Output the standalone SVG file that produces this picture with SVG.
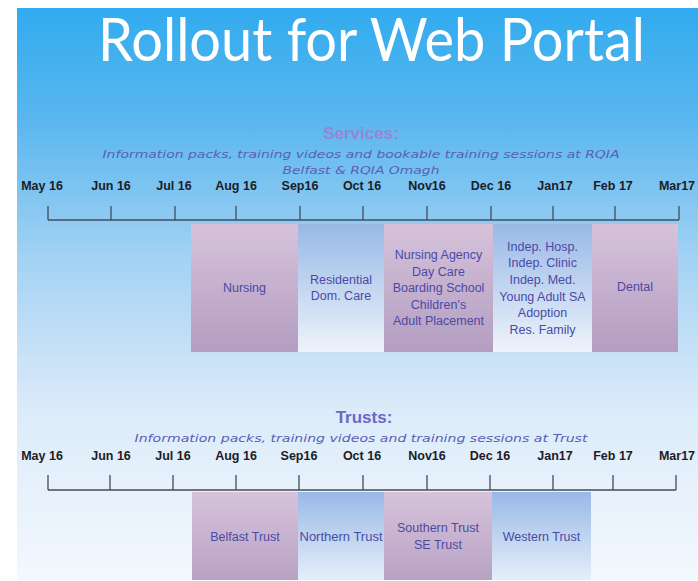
<svg xmlns="http://www.w3.org/2000/svg" width="698" height="581" viewBox="0 0 698 581">
<defs>
<linearGradient id="bg" x1="0" y1="0" x2="0" y2="1">
<stop offset="0" stop-color="#31abef"/>
<stop offset="0.2" stop-color="#5bb7ee"/>
<stop offset="0.45" stop-color="#a6d3f4"/>
<stop offset="0.7" stop-color="#dbebf9"/>
<stop offset="1" stop-color="#f3f8fe"/>
</linearGradient>
<linearGradient id="purp" x1="0" y1="0" x2="0" y2="1">
<stop offset="0" stop-color="#d6c3da"/>
<stop offset="1" stop-color="#b39dc1"/>
</linearGradient>
<linearGradient id="blu" x1="0" y1="0" x2="0" y2="1">
<stop offset="0" stop-color="#98b9e6"/>
<stop offset="1" stop-color="#eef3fb"/>
</linearGradient>
<linearGradient id="purp2" x1="0" y1="0" x2="0" y2="1">
<stop offset="0" stop-color="#d6c3da"/>
<stop offset="1" stop-color="#b8a2c4"/>
</linearGradient>
<linearGradient id="blu2" x1="0" y1="0" x2="0" y2="1">
<stop offset="0" stop-color="#98b9e6"/>
<stop offset="1" stop-color="#e6eefa"/>
</linearGradient>
</defs>
<style>
.title{font-family:Lato,"Open Sans",sans-serif;font-size:60px;fill:#ffffff;}
.head{font-family:"Liberation Sans",Arial,sans-serif;font-weight:bold;font-size:17px;text-anchor:middle;}
.ital{font-family:"DejaVu Sans",Verdana,sans-serif;font-style:italic;font-size:11px;fill:#5a5fb5;text-anchor:middle;}
.mon{font-family:"Liberation Sans",Arial,sans-serif;font-weight:bold;font-size:12.5px;fill:#1c1c28;text-anchor:middle;}
.axis{stroke:#454c5c;stroke-width:1.3;fill:none;}
.box text{font-family:"Liberation Sans",Arial,sans-serif;font-size:12.5px;fill:#4a4aa6;text-anchor:middle;}
</style>
<rect x="17" y="8" width="681" height="572" fill="url(#bg)"/>
<text class="title" x="98" y="61" textLength="547" lengthAdjust="spacingAndGlyphs">Rollout for Web Portal</text>

<g id="services-header">
<text class="head" x="361" y="139" fill="#9486d6">Services:</text>
<text class="ital" x="361" y="158" textLength="517" lengthAdjust="spacingAndGlyphs">Information packs, training videos and bookable training sessions at RQIA</text>
<text class="ital" x="361" y="174" textLength="157" lengthAdjust="spacingAndGlyphs">Belfast &amp; RQIA  Omagh</text>
</g>

<g id="services-months">
<text class="mon" x="42" y="190">May 16</text>
<text class="mon" x="111" y="190">Jun 16</text>
<text class="mon" x="174" y="190">Jul 16</text>
<text class="mon" x="236" y="190">Aug 16</text>
<text class="mon" x="300" y="190">Sep16</text>
<text class="mon" x="362" y="190">Oct 16</text>
<text class="mon" x="427" y="190">Nov16</text>
<text class="mon" x="491" y="190">Dec 16</text>
<text class="mon" x="555" y="190">Jan17</text>
<text class="mon" x="613" y="190">Feb 17</text>
<text class="mon" x="677" y="190">Mar17</text>
</g>

<g id="connectors">
<path class="axis" d="M48 220H679M48 206V220M111 206V220M175 206V220M236 206V220M300 206V220M363 206V220M427 206V220M491 206V220M553 206V220M615 206V220M679 206V220"/>
<path class="axis" d="M48 490H676M48 475V490M110 475V490M173 475V490M236 475V490M299 475V490M363 475V490M427 475V490M490 475V490M553 475V490M613 475V490M676 475V490"/>
</g>

<g id="svc-nursing" class="box">
<rect x="191" y="224" width="107" height="128" fill="url(#purp)"/>
<text x="244.5" y="292">Nursing</text>
</g>
<g id="svc-residential" class="box">
<rect x="298" y="224" width="86" height="128" fill="url(#blu)"/>
<text x="341" y="284">Residential</text>
<text x="341" y="300">Dom. Care</text>
</g>
<g id="svc-agency" class="box">
<rect x="384" y="224" width="109" height="128" fill="url(#purp)"/>
<text x="438.5" y="259">Nursing Agency</text>
<text x="438.5" y="275.5">Day Care</text>
<text x="438.5" y="292">Boarding School</text>
<text x="438.5" y="308.5">Children’s</text>
<text x="438.5" y="325">Adult Placement</text>
</g>
<g id="svc-indep" class="box">
<rect x="493" y="224" width="99" height="128" fill="url(#blu)"/>
<text x="542.5" y="250.5">Indep. Hosp.</text>
<text x="542.5" y="267">Indep. Clinic</text>
<text x="542.5" y="284">Indep. Med.</text>
<text x="542.5" y="301">Young Adult SA</text>
<text x="542.5" y="317">Adoption</text>
<text x="542.5" y="333.5">Res. Family</text>
</g>
<g id="svc-dental" class="box">
<rect x="592" y="224" width="86" height="128" fill="url(#purp)"/>
<text x="635" y="291">Dental</text>
</g>

<g id="trusts-header">
<text class="head" x="364" y="423" fill="#6c68c8">Trusts:</text>
<text class="ital" x="361" y="442" textLength="453" lengthAdjust="spacingAndGlyphs">Information packs, training videos and training sessions at Trust</text>
</g>

<g id="trusts-months">
<text class="mon" x="42" y="460">May 16</text>
<text class="mon" x="111" y="460">Jun 16</text>
<text class="mon" x="173" y="460">Jul 16</text>
<text class="mon" x="236" y="460">Aug 16</text>
<text class="mon" x="299" y="460">Sep16</text>
<text class="mon" x="362" y="460">Oct 16</text>
<text class="mon" x="427" y="460">Nov16</text>
<text class="mon" x="490" y="460">Dec 16</text>
<text class="mon" x="555" y="460">Jan17</text>
<text class="mon" x="613" y="460">Feb 17</text>
<text class="mon" x="677" y="460">Mar17</text>
</g>

<g id="trust-belfast" class="box">
<rect x="192" y="492" width="106" height="88" fill="url(#purp2)"/>
<text x="245" y="541">Belfast Trust</text>
</g>
<g id="trust-northern" class="box">
<rect x="298" y="492" width="86" height="88" fill="url(#blu2)"/>
<text x="341" y="541" textLength="83" lengthAdjust="spacingAndGlyphs">Northern Trust</text>
</g>
<g id="trust-southern" class="box">
<rect x="384" y="492" width="108" height="88" fill="url(#purp2)"/>
<text x="438" y="532">Southern Trust</text>
<text x="438" y="549">SE Trust</text>
</g>
<g id="trust-western" class="box">
<rect x="492" y="492" width="99" height="88" fill="url(#blu2)"/>
<text x="541.5" y="541">Western Trust</text>
</g>
</svg>
